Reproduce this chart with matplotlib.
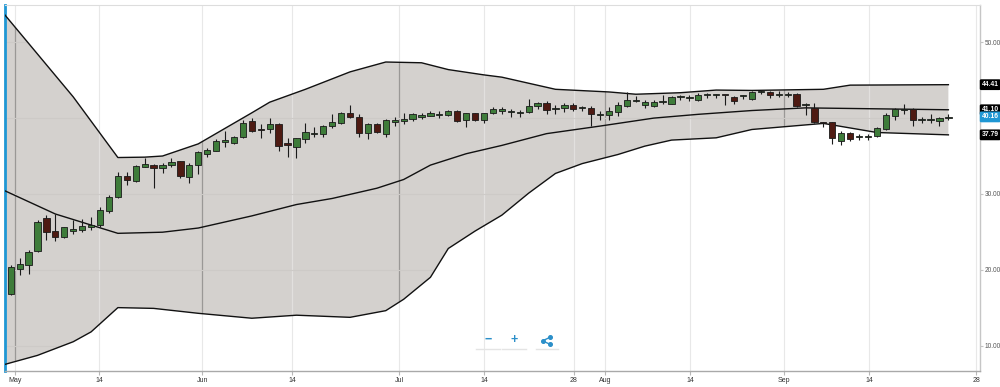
"""
Candlestick chart with an envelope band (upper / middle / lower), May - Sep.
Saves out.png at 1000x387 px.
"""

import matplotlib

matplotlib.use("Agg")
import matplotlib.pyplot as plt
import numpy as np
from matplotlib.lines import Line2D

# ---------------------------------------------------------------- data
open_ = [16.8, 20.05, 20.6, 22.5, 26.8, 25.1, 24.3, 25.1, 25.24, 25.7,
         25.9, 27.8, 29.55, 32.36, 31.75, 33.6, 33.85, 33.45, 33.8, 34.3,
         32.27, 33.8, 35.2, 35.66, 36.85, 36.75, 37.47, 39.66, 38.55, 38.6,
         39.18, 36.68, 36.15, 37.24, 37.9, 37.9, 39.0, 39.3, 40.7, 40.1,
         38.05, 39.22, 37.86, 39.53, 39.66, 39.84, 40.2, 40.32, 40.45, 40.4,
         40.98, 39.75, 40.63, 39.75, 40.71, 41.0, 40.8, 40.72, 40.85, 41.6,
         41.95, 41.15, 41.37, 41.73, 41.33, 41.37, 40.36, 40.4, 40.85, 41.6,
         42.26, 41.7, 41.6, 42.06, 41.86, 42.79, 42.66, 42.4, 43.0, 43.0,
         43.05, 42.83, 42.88, 42.48, 43.46, 43.5, 43.0, 43.0, 43.18, 41.7,
         41.37, 39.35, 39.44, 37.0, 38.07, 37.5, 37.5, 37.64, 38.56, 40.32,
         41.03, 41.16, 39.7, 39.7, 39.6, 40.05]
high = [20.6, 21.5, 22.6, 26.6, 27.2, 27.35, 25.7, 26.55, 26.7, 26.9,
        28.3, 29.9, 32.93, 32.9, 33.8, 34.7, 34.0, 34.1, 34.8, 34.4,
        34.1, 35.7, 36.0, 37.2, 38.34, 37.7, 39.75, 39.97, 39.2, 39.97,
        39.3, 37.33, 37.4, 39.3, 38.87, 39.15, 40.54, 40.8, 41.73, 40.5,
        39.3, 39.4, 39.9, 40.2, 40.63, 40.7, 40.63, 41.0, 40.9, 41.1,
        41.1, 40.7, 40.7, 40.7, 41.4, 41.4, 41.2, 41.1, 42.52, 42.1,
        42.3, 41.7, 42.0, 42.0, 41.6, 41.6, 40.97, 41.5, 42.1, 43.5,
        42.9, 42.4, 42.4, 43.05, 42.95, 43.1, 43.0, 43.3, 43.3, 43.2,
        43.1, 42.95, 43.1, 43.6, 43.7, 43.6, 43.6, 43.5, 43.3, 41.95,
        42.03, 39.53, 39.5, 38.34, 38.2, 37.86, 37.86, 38.87, 40.63, 41.3,
        41.9, 41.3, 40.2, 40.6, 40.2, 40.5]
low = [16.7, 19.3, 19.5, 22.4, 23.9, 23.8, 24.2, 24.7, 24.95, 25.2,
       25.6, 27.5, 29.4, 31.2, 31.6, 33.5, 30.8, 32.7, 33.6, 32.05,
       31.4, 32.6, 34.9, 35.6, 36.2, 36.6, 37.4, 38.2, 37.33, 38.0,
       35.7, 34.9, 34.7, 36.75, 37.55, 37.5, 38.65, 39.2, 40.0, 37.47,
       37.2, 38.1, 37.5, 39.0, 39.18, 39.6, 39.94, 40.25, 40.0, 40.3,
       39.5, 38.8, 39.6, 39.3, 40.5, 40.6, 40.2, 40.1, 40.7, 41.2,
       40.6, 40.5, 40.8, 41.0, 40.96, 38.96, 39.75, 39.75, 40.3, 41.5,
       42.1, 41.3, 41.5, 41.8, 41.8, 42.4, 42.2, 42.3, 42.6, 42.7,
       41.73, 41.8, 42.5, 42.4, 43.2, 42.6, 42.8, 42.8, 41.5, 40.4,
       39.3, 38.8, 36.54, 36.45, 37.0, 37.1, 37.1, 37.47, 38.43, 39.75,
       40.5, 39.0, 39.3, 39.3, 38.96, 39.75]
close = [20.3, 20.75, 22.4, 26.33, 25.0, 24.3, 25.6, 25.33, 25.76, 25.9,
         27.9, 29.55, 32.36, 31.9, 33.7, 34.0, 33.4, 33.85, 34.25, 32.4,
         33.85, 35.53, 35.8, 36.98, 37.1, 37.55, 39.4, 38.34, 38.45, 39.22,
         36.36, 36.45, 37.33, 38.2, 38.1, 39.0, 39.53, 40.7, 40.1, 38.1,
         39.18, 38.2, 39.75, 39.75, 39.84, 40.5, 40.37, 40.7, 40.6, 40.94,
         39.66, 40.63, 39.75, 40.63, 41.2, 41.07, 40.85, 40.76, 41.64, 41.95,
         41.07, 41.2, 41.73, 41.24, 41.37, 40.5, 40.4, 40.98, 41.73, 42.4,
         42.3, 42.17, 42.17, 42.1, 42.83, 42.83, 42.7, 43.05, 43.05, 43.05,
         43.0, 42.3, 42.92, 43.5, 43.5, 43.05, 43.05, 43.05, 41.6, 41.73,
         39.53, 39.3, 37.33, 38.0, 37.24, 37.55, 37.55, 38.65, 40.41, 41.16,
         41.07, 39.75, 39.75, 39.75, 40.05, 40.16]

# envelope lines, read at the trading-day index where the slope changes
upper_idx = [-1, 7, 12, 15, 17, 21, 27, 29, 33, 38, 42, 46, 49, 53, 55, 61,
             67, 70, 75, 79, 83, 91, 94, 105]
upper_val = [54.1, 42.8, 34.8, 34.85, 35.0, 36.6, 40.7, 42.1, 43.8, 46.1,
             47.4, 47.3, 46.4, 45.7, 45.4, 43.8, 43.45, 43.15, 43.35, 43.7,
             43.65, 43.8, 44.35, 44.41]

middle_idx = [-1, 5, 12, 17, 21, 27, 32, 36, 41, 44, 47, 51, 55, 60, 66, 72,
              77, 83, 89, 105]
middle_val = [30.6, 27.35, 24.8, 24.95, 25.5, 27.1, 28.6, 29.4, 30.75, 31.9,
              33.8, 35.3, 36.4, 37.95, 38.95, 40.0, 40.5, 41.0, 41.35, 41.10]

lower_idx = [-1, 3, 7, 9, 12, 16, 21, 27, 32, 38, 42, 44, 47, 49, 52, 55, 58,
             61, 64, 68, 71, 74, 79, 83, 91, 97, 105]
lower_val = [7.4, 8.7, 10.5, 11.8, 15.0, 14.9, 14.25, 13.6, 14.0, 13.72, 14.6,
             16.1, 19.0, 22.8, 25.1, 27.2, 30.1, 32.7, 34.0, 35.2, 36.3, 37.1,
             37.4, 38.5, 39.3, 38.1, 37.79]

tick_labels = ["May", "14", "Jun", "14", "Jul", "14", "28", "Aug", "14",
               "Sep", "14", "28"]
month_labels = {"May", "Jun", "Jul", "Aug", "Sep"}

# ---------------------------------------------------------------- layout
TICK_POS = [0.48, 9.92, 21.46, 31.53, 43.52, 53.0, 63.08, 66.58, 76.07,
            86.6, 96.1, 108.1]
XLIM = (-0.64, 108.54)
YLIM = (6.64, 54.96)

UP = "#3e7c3a"
DOWN = "#4e1a12"
EDGE = "#1a1a1a"
BAND = "#d4d1ce"
BLUE = "#1f97d4"
FONT = "Liberation Sans"


def draw_band(ax):
    """Filled envelope with its three border lines; returns the fill patch."""
    poly_x = np.concatenate([upper_idx, lower_idx[::-1]])
    poly_y = np.concatenate([upper_val, lower_val[::-1]])
    (patch,) = ax.fill(poly_x, poly_y, color=BAND, lw=0, zorder=1)
    for xs, ys in ((upper_idx, upper_val), (middle_idx, middle_val),
                   (lower_idx, lower_val)):
        ax.plot(xs, ys, color="#111111", lw=1.0, zorder=5,
                solid_joinstyle="round")
    return patch


def draw_grid(ax, patch):
    """Light grid outside, darker month lines inside the band."""
    for pos, lab in zip(TICK_POS, tick_labels):
        ax.axvline(pos, color="#e8e8e8", lw=0.8, zorder=0)
        inner = ax.axvline(pos, lw=0.9, zorder=2,
                           color="#9a9896" if lab in month_labels else "#e2e0de")
        inner.set_clip_path(patch)
    for v in (10, 20, 30, 40, 50):
        h = ax.axhline(v, color="#cdcac7", lw=0.8, zorder=2)
        h.set_clip_path(patch)


def draw_candles(ax):
    o = np.asarray(open_)
    h = np.asarray(high)
    l = np.asarray(low)
    c = np.asarray(close)
    idx = np.arange(len(o))
    colors = [UP if cc >= oo else DOWN for oo, cc in zip(o, c)]
    ax.vlines(idx, l, h, color=EDGE, lw=0.8, zorder=6)
    bottom = np.minimum(o, c)
    height = np.maximum(np.abs(c - o), 0.14)
    ax.bar(idx, height, bottom=bottom, width=0.7, color=colors,
           edgecolor=EDGE, linewidth=0.6, zorder=7)


def draw_value_tags(ax):
    """Boxed last values on the right axis."""
    tags = [(upper_val[-1], "black"), (middle_val[-1], "black"),
            (lower_val[-1], "black"), (close[-1], BLUE)]
    for v, fc in tags:
        ax.annotate(f"{v:.2f}", xy=(1.0, v), xycoords=ax.get_yaxis_transform(),
                    xytext=(1.2, 0), textcoords="offset points",
                    ha="left", va="center", fontsize=4.9, color="white",
                    fontweight="bold", family=FONT, annotation_clip=False,
                    bbox=dict(boxstyle="round,pad=0.28,rounding_size=0.2",
                              fc=fc, ec="none"), zorder=20)


def draw_nav(fig):
    """Zoom / share buttons under the chart."""
    def fx(px):
        return px / 1000.0

    def fy(py):
        return 1 - py / 387.0

    for px, s in ((488.3, "\u2212"), (514.0, "+")):
        fig.text(fx(px), fy(340), s, color="#2b8fc9", fontsize=9,
                 fontweight="bold", ha="center", va="center", family=FONT)
    for x0, x1 in ((476, 500), (502, 526), (536, 558)):
        fig.add_artist(Line2D([fx(x0), fx(x1)], [fy(349), fy(349)],
                              color="#e4e4e4", lw=1))
    pts = [(550.2, 337.2), (542.6, 340.8), (550.2, 344.4)]
    fig.add_artist(Line2D([fx(p[0]) for p in pts], [fy(p[1]) for p in pts],
                          color="#2b8fc9", lw=1.0))
    for p in pts:
        fig.add_artist(Line2D([fx(p[0])], [fy(p[1])], marker="o", ms=2.6,
                              color="#2b8fc9", lw=0))


def main():
    plt.rcParams["font.family"] = [FONT, "DejaVu Sans"]
    fig = plt.figure(figsize=(10, 3.87), dpi=100)
    ax = fig.add_axes([0.005, 1 - 371 / 387, 0.975, (371 - 4.7) / 387])

    patch = draw_band(ax)
    draw_grid(ax, patch)
    draw_candles(ax)

    ax.set_xlim(*XLIM)
    ax.set_ylim(*YLIM)
    ax.set_xticks(TICK_POS)
    ax.set_xticklabels(tick_labels)
    ax.yaxis.tick_right()
    ax.set_yticks([10, 20, 30, 40, 50])
    ax.set_yticklabels([f"{v:.2f}" for v in (10, 20, 30, 40, 50)])
    ax.tick_params(axis="x", length=3, width=0.8, color="#b8b8b8",
                   labelsize=5, labelcolor="#333333", pad=1.5)
    ax.tick_params(axis="y", length=2.2, width=0.8, color="#c4c4c4",
                   labelsize=4.7, labelcolor="#555555", pad=1.0)

    ax.spines["left"].set_color(BLUE)
    ax.spines["left"].set_linewidth(2.0)
    ax.spines["bottom"].set_color("#a9a9a9")
    ax.spines["bottom"].set_linewidth(1.0)
    ax.spines["top"].set_color("#dddddd")
    ax.spines["top"].set_linewidth(0.8)
    ax.spines["right"].set_color("#c6c6c6")
    ax.spines["right"].set_linewidth(1.0)

    draw_value_tags(ax)
    draw_nav(fig)

    fig.savefig("out.png", dpi=100, facecolor="white")
    plt.close(fig)


if __name__ == "__main__":
    main()
